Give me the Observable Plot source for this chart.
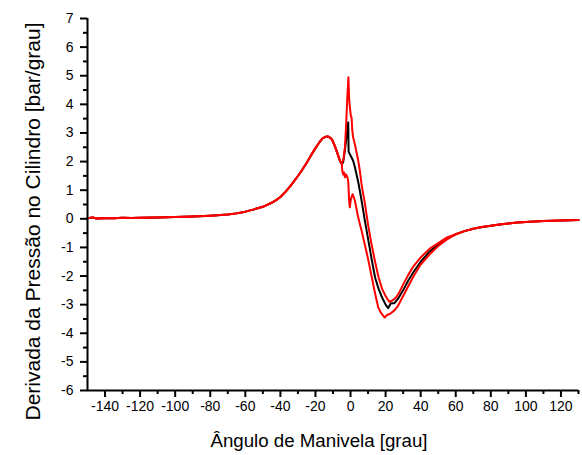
<!DOCTYPE html>
<html><head><meta charset="utf-8">
<script src="https://cdn.jsdelivr.net/npm/d3@7"></script>
<script src="https://cdn.jsdelivr.net/npm/@observablehq/plot@0.6"></script>
<style>body{margin:0;background:#fff;}</style>
</head><body><div id="chart"></div>
<script>
// Shared part (all three curves coincide)
const leftAngles = [-150,-147,-145,-140,-135,-130,-125,-120,-110,-100,-90,-80,-70,-65,-60,-55,-50,-45,-42,-40,-37,-34,-31,-28,-25,-22,-20,-18,-16,-14,-13,-12,-10.8,-10,-9,-8,-7,-6,-5];
const leftValues = [0.02,0.05,0.01,0.02,0.02,0.04,0.03,0.04,0.05,0.06,0.08,0.11,0.15,0.19,0.25,0.33,0.42,0.56,0.67,0.76,0.95,1.17,1.41,1.67,1.96,2.27,2.47,2.65,2.81,2.87,2.88,2.85,2.79,2.7,2.55,2.38,2.2,2.02,1.92];
const tailAngles = [60,65,70,75,80,85,90,95,100,105,110,115,120,125,130];
const tailValues = [-0.54,-0.43,-0.35,-0.29,-0.24,-0.2,-0.16,-0.13,-0.11,-0.09,-0.08,-0.07,-0.06,-0.05,-0.04];
// Mean curve (black)
const meanAngles = [-4.2,-3,-2,-1.3,-1.1,-0.4,0.5,1.5,2.5,3.4,4.5,5.3,6.3,8,10,12,14,16,18,20,21.5,23,25,27,30,33,36,40,45,50,55];
const meanValues = [1.97,2.5,3.0,3.37,2.35,2.26,2.15,2.03,1.8,1.56,1.25,0.98,0.63,0.0,-0.7,-1.4,-2.05,-2.45,-2.75,-3.0,-3.12,-2.95,-2.95,-2.8,-2.5,-2.15,-1.85,-1.5,-1.15,-0.9,-0.7];
// Upper bound (red)
const upperAngles = [-4,-3.2,-2.5,-1.8,-1.2,-0.8,-0.4,0.2,0.6,1,1.5,2.5,3.5,4.4,5.3,6.3,7,8,9,10,12,14,16,18,20,22,24,26,28,30,33,36,40,45,50,55];
const upperValues = [2.1,2.5,3.3,4.3,4.95,4.2,3.9,3.6,3.54,3.1,2.84,2.6,2.3,2.03,1.68,1.2,0.95,0.6,0.2,-0.2,-0.9,-1.5,-2.05,-2.45,-2.7,-2.9,-2.85,-2.75,-2.55,-2.3,-1.95,-1.65,-1.35,-1.05,-0.85,-0.65];
// Lower bound (red)
const lowerAngles = [-4.7,-4.2,-3.7,-3.2,-2.5,-1.8,-1.3,-0.8,-0.4,0.2,1.2,2.5,4,5,6.3,8.1,10,12.9,14.5,15.8,17.5,19.5,21,22.4,25,27,30,33,36,40,45,50,55];
const lowerValues = [1.68,1.55,1.62,1.45,1.55,1.45,1.3,0.6,0.4,0.7,0.86,0.63,0.16,-0.1,-0.42,-0.89,-1.4,-2.28,-2.75,-3.1,-3.3,-3.45,-3.35,-3.33,-3.2,-3.05,-2.7,-2.35,-2.0,-1.6,-1.25,-0.95,-0.72];

const xMajorTicks = [-140,-120,-100,-80,-60,-40,-20,0,20,40,60,80,100,120];
const xMinorTicks = [-130,-110,-90,-70,-50,-30,-10,10,30,50,70,90,110,130];
const yMajorTicks = [-6,-5,-4,-3,-2,-1,0,1,2,3,4,5,6,7];
const yMinorTicks = [-5.5,-4.5,-3.5,-2.5,-1.5,-0.5,0.5,1.5,2.5,3.5,4.5,5.5,6.5];
const xTitle = "Ângulo de Manivela [grau]";
const yTitle = "Derivada da Pressão no Cilindro [bar/grau]";

function build(a, v) {
  const ang = [...leftAngles, ...a, ...tailAngles];
  const val = [...leftValues, ...v, ...tailValues];
  return ang.map((x, i) => ({x, y: val[i]}));
}
const mean = build(meanAngles, meanValues);
const upper = build(upperAngles, upperValues);
const lower = build(lowerAngles, lowerValues);

const font = "'Liberation Sans', Arial, sans-serif";
const chart = Plot.plot({
  width: 582, height: 455,
  marginLeft: 87, marginRight: 4, marginTop: 18, marginBottom: 65,
  style: {fontFamily: font, fontSize: "14px", background: "#fff", color: "#000"},
  x: {domain: [-150, 130]},
  y: {domain: [-6, 7]},
  marks: [
    Plot.line(mean, {x: "x", y: "y", stroke: "#000", strokeWidth: 2}),
    Plot.line(lower, {x: "x", y: "y", stroke: "#ff0000", strokeWidth: 2}),
    Plot.line(upper, {x: "x", y: "y", stroke: "#ff0000", strokeWidth: 2}),
    Plot.ruleX([-150], {strokeWidth: 2}),
    Plot.ruleY([-6], {strokeWidth: 2}),
    Plot.axisX(xMajorTicks, {tickSize: 7, tickPadding: 4, strokeWidth: 2, fontSize: 14, tickFormat: d => String(d), label: null}),
    Plot.axisX(xMinorTicks, {tickSize: 4, strokeWidth: 2, fill: "none", label: null}),
    Plot.axisY(yMajorTicks, {tickSize: 7, tickPadding: 7, strokeWidth: 2, fontSize: 14, tickFormat: d => String(d), label: null}),
    Plot.axisY(yMinorTicks, {tickSize: 4, strokeWidth: 2, fill: "none", label: null}),
    Plot.text([xTitle], {text: d => d, frameAnchor: "bottom", textAnchor: "middle", dx: -14, dy: 56, lineAnchor: "bottom", fontSize: 18.7}),
    Plot.text([yTitle], {text: d => d, frameAnchor: "left", textAnchor: "middle", rotate: -90, dx: -48, dy: 17, lineAnchor: "bottom", fontSize: 21})
  ]
});
document.getElementById("chart").appendChild(chart);
</script>
</body></html>
